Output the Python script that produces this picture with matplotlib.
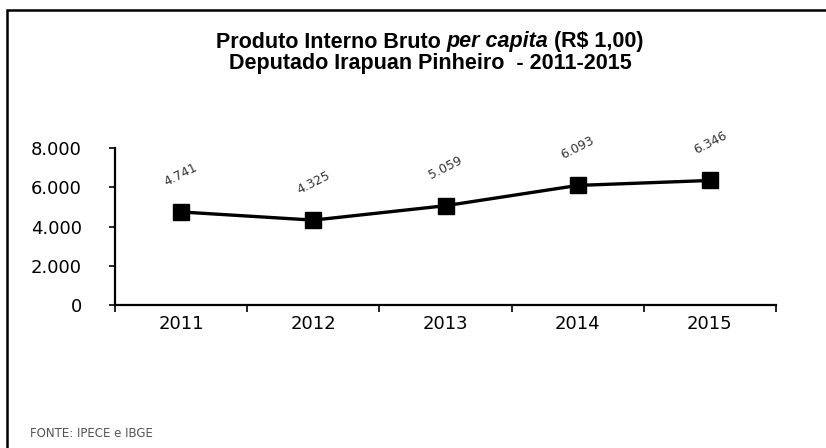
import matplotlib
matplotlib.use("Agg")
import matplotlib.pyplot as plt
from matplotlib.patches import Rectangle

plt.rcParams["font.family"] = ["Liberation Sans", "DejaVu Sans"]

anos = ["2011", "2012", "2013", "2014", "2015"]
pib_per_capita = [4741, 4325, 5059, 6093, 6346]
rotulos = ["4.741", "4.325", "5.059", "6.093", "6.346"]
yticks = [0, 2000, 4000, 6000, 8000]
ytick_labels = ["0", "2.000", "4.000", "6.000", "8.000"]

W, H = 826, 448
fig = plt.figure(figsize=(W / 100, H / 100), dpi=100)
fig.patch.set_facecolor("white")

# outer frame
fig.add_artist(Rectangle((7 / W, -0.05), 1.2, 1 - 10 / H + 0.05,
                         transform=fig.transFigure, fill=False,
                         edgecolor="black", linewidth=1.8))

ax = fig.add_axes([115 / W, 1 - 305 / H, (776 - 115) / W, (305 - 148) / H])
x = list(range(len(anos)))
ax.plot(x, pib_per_capita, color="black", linewidth=2.4, marker="s",
        markersize=11.5, markerfacecolor="black", markeredgecolor="black")

for xi, v, lab in zip(x, pib_per_capita, rotulos):
    ax.annotate(lab, (xi, v), xytext=(0, 27), textcoords="offset points",
                ha="center", va="center", rotation=27, fontsize=9,
                color="#333333", family="DejaVu Sans")

ax.set_xlim(-0.5, len(anos) - 0.5)
ax.set_ylim(0, 8000)
ax.set_yticks(yticks)
ax.set_yticklabels(ytick_labels, fontsize=13, family="DejaVu Sans")
ax.set_xticks(x)
ax.set_xticklabels(anos, fontsize=13, family="DejaVu Sans")
ax.set_xticks([i - 0.5 for i in range(len(anos) + 1)], minor=True)
ax.tick_params(axis="x", which="major", length=0, pad=7)
ax.tick_params(axis="x", which="minor", length=5, width=1.2, direction="out")
ax.tick_params(axis="y", length=4, width=1.2, direction="out", pad=20)
for side in ["top", "right"]:
    ax.spines[side].set_visible(False)
for side in ["left", "bottom"]:
    ax.spines[side].set_linewidth(1.6)
ax.set_facecolor("none")

# title: first line mixes bold and bold-italic runs
fig.canvas.draw()
renderer = fig.canvas.get_renderer()
partes = [("Produto Interno Bruto ", "normal"), ("per capita", "italic"),
          (" (R$ 1,00)", "normal")]
textos = []
for s, estilo in partes:
    t = fig.text(0, 1 - 42 / H, s, fontsize=15.5, fontweight="bold",
                 style=estilo, ha="left", va="center")
    textos.append(t)
larguras = [t.get_window_extent(renderer).width for t in textos]
total = sum(larguras)
x0 = 430 - total / 2
for t, w in zip(textos, larguras):
    t.set_x(x0 / W)
    x0 += w
fig.text(430 / W, 1 - 64 / H, "Deputado Irapuan Pinheiro  - 2011-2015",
         fontsize=15.5, fontweight="bold", ha="center", va="center")

fig.text(30 / W, 1 - 433 / H, "FONTE: IPECE e IBGE", fontsize=8.5,
         color="#555555", ha="left", va="center", family="DejaVu Sans")

fig.savefig("out.png", dpi=100, facecolor="white")
